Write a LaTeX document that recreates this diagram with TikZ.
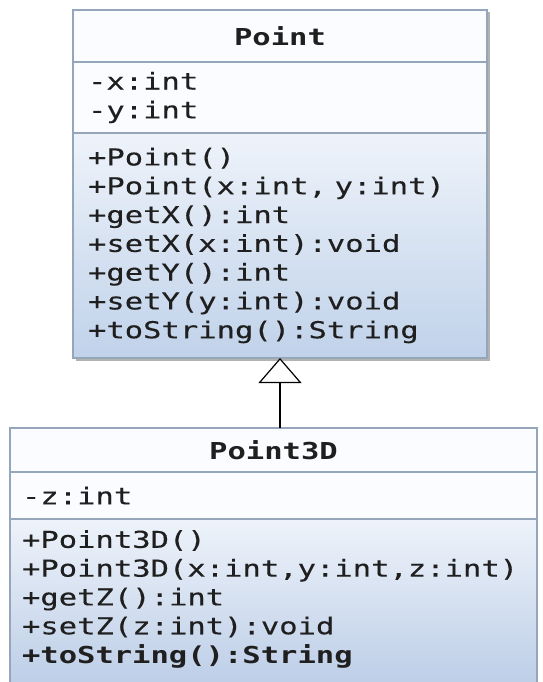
\documentclass[tikz,border=0pt]{standalone}
\usepackage{fontspec}
\usepackage{tikz}
\usetikzlibrary{positioning,arrows.meta,shadows}
\newfontfamily\umlfont[FakeStretch=1.31, UprightFeatures={FakeBold=0.25}]{DejaVu Sans Mono}
\definecolor{umlline}{RGB}{150,166,186}
\definecolor{umlpale}{RGB}{250,252,255}
\definecolor{umlmid}{RGB}{238,243,250}
\definecolor{umlblue}{RGB}{192,210,234}
\definecolor{umldeep}{RGB}{178,198,227}
\begin{document}
\begin{tikzpicture}[x=1pt, y=-1pt,
    every node/.style={font=\umlfont\fontsize{23.3}{28.8}\selectfont, text=black!88, outer sep=0pt},
    compart/.style={draw=umlline, line width=1.2pt, inner ysep=0pt},
    ptbox/.style={compart, minimum width=414pt, text width=384pt, inner xsep=15pt,
        drop shadow={shadow xshift=2.5pt, shadow yshift=-2.5pt, fill=black!30, opacity=1}},
    pt3dbox/.style={compart, minimum width=527pt, text width=503pt, inner xsep=12pt}]
    \useasboundingbox (0,0) rectangle (542,682);
    \clip (0,0) rectangle (542,682);
    \node[ptbox, fill=umlpale, align=center, minimum height=52pt, anchor=north west] (ptName) at (73,10) {\bfseries Point};
    \node[ptbox, fill=umlpale, align=left, minimum height=71pt, below=0pt of ptName] (ptAttr) {-x:int\\-y:int};
    \node[ptbox, top color=umlmid, bottom color=umlblue, align=left, minimum height=225pt, below=0pt of ptAttr] (ptOps)
        {+Point()\\+Point(x:int, y:int)\\+getX():int\\+setX(x:int):void\\+getY():int\\+setY(y:int):void\\+toString():String};
    \node[pt3dbox, fill=umlpale, align=center, minimum height=44pt, anchor=north west] (p3dName) at (10,428) {\bfseries Point3D};
    \node[pt3dbox, fill=umlpale, align=left, minimum height=47pt, below=0pt of p3dName] (p3dAttr) {-z:int};
    \node[pt3dbox, top color=umlmid, bottom color=umldeep, align=left, minimum height=200pt, below=0pt of p3dAttr] (p3dOps)
        {+Point3D()\\+Point3D(x:int,y:int,z:int)\\+getZ():int\\+setZ(z:int):void\\\textbf{+toString():String}\\[16pt]\mbox{}};
    \draw[-{Triangle[fill=white, length=25pt, width=43pt]}, line width=1.2pt] (p3dName.north -| ptOps.south) -- (ptOps.south);
\end{tikzpicture}
\end{document}
